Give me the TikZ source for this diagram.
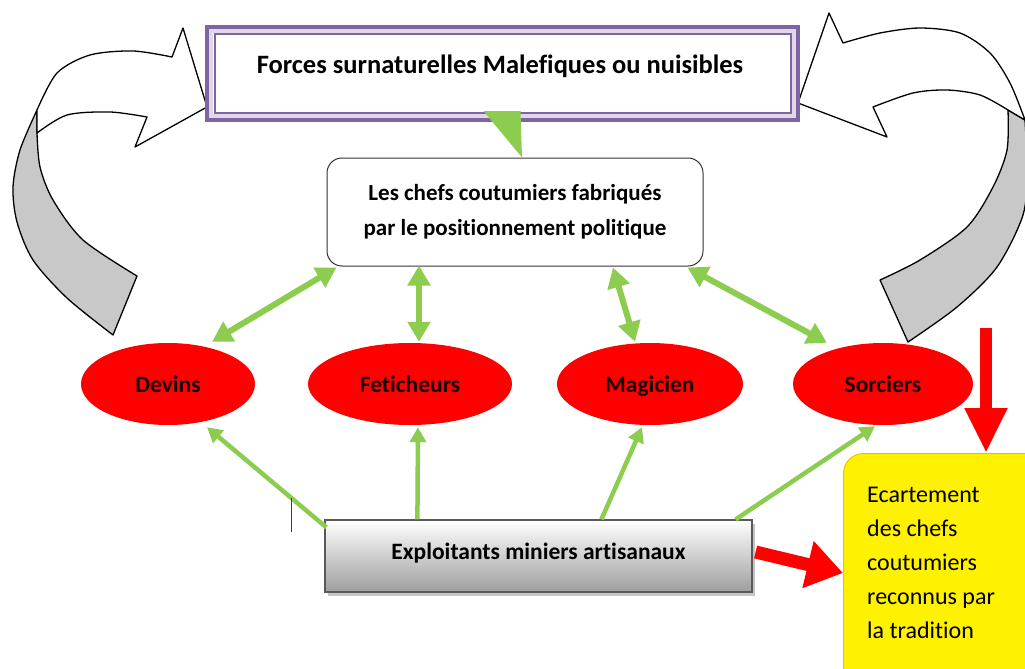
\documentclass[tikz,border=0pt]{standalone}
\usepackage{fontspec}
\setmainfont{Carlito}[Ligatures=NoCommon]
\usetikzlibrary{arrows.meta,shapes.geometric,shadows,calc}
\definecolor{grn}{RGB}{140,205,80}
\definecolor{purp}{RGB}{128,100,162}
\definecolor{redd}{RGB}{255,0,0}
\definecolor{bandgray}{RGB}{200,200,200}
\definecolor{yelborder}{RGB}{225,195,0}
\begin{document}
\begin{tikzpicture}[x=1pt,y=-1pt,
  topbox/.style={draw=purp,line width=6pt,fill=white,minimum width=589pt,minimum height=91pt,inner sep=0pt},
  chefbox/.style={draw=black!80,line width=1pt,fill=white,rounded corners=15pt,minimum width=376pt,minimum height=108pt,align=center,font=\fontsize{23}{35}\selectfont\bfseries},
  oval/.style={ellipse,fill=redd,draw=none,minimum height=82pt,inner sep=0pt,text height=16pt,text depth=0pt,font=\fontsize{23.5}{26}\selectfont\bfseries,text=black!90!red},
  expbox/.style={draw=black!65,line width=1.2pt,top color=white,bottom color=black!38,minimum width=427pt,minimum height=72pt,text height=16pt,text depth=10pt,font=\fontsize{23.5}{26}\selectfont\bfseries,drop shadow={shadow xshift=3pt,shadow yshift=-4pt,opacity=0.45}},
  yelbox/.style={draw=yelborder,line width=1pt,fill=yellow,rounded corners=20pt,minimum width=230pt,minimum height=250pt,anchor=north west},
  dbl/.style={grn,line width=6pt,{Triangle[length=20pt,width=22pt]}-{Triangle[length=20pt,width=22pt]}},
  sgl/.style={grn,line width=4.5pt,-{Triangle[length=15pt,width=16pt]}},
  bandline/.style={draw=black,line width=1.3pt,line join=round}]
\useasboundingbox (0,0) rectangle (1025,669);
\fill[white] (0,0) rectangle (1025,669);
\clip (0,0) rectangle (1025,669);

% curved block arrows
\path[bandline,fill=bandgray] plot[smooth] coordinates {(37,110) (20,150) (13,187) (17,222) (33,260) (67,298) (113,335)} -- (137,276)
  -- plot[smooth] coordinates {(137,276) (83,240) (53,200) (40,167) (37,133)} -- cycle;
\path[bandline,fill=white] plot[smooth] coordinates {(37,110) (57,73) (90,55) (133,51) (172,57)} -- (183,28) -- (207,107) -- (135,147) -- (147,117)
  -- plot[smooth] coordinates {(147,117) (110,112) (67,115) (37,133)} -- cycle;
\path[bandline,fill=bandgray] plot[smooth] coordinates {(1025,120) (1027,170) (1023,215) (997,267) (957,307) (908,342)} -- (880,280)
  -- plot[smooth] coordinates {(880,280) (920,260) (967,227) (993,187) (1007,150) (1008,110)} -- cycle;
\path[bandline,fill=white] plot[smooth] coordinates {(1025,120) (1010,83) (990,53) (960,33) (920,28) (880,33) (843,43)} -- (829,13) -- (798,103) -- (887,137) -- (873,107)
  -- plot[smooth] coordinates {(873,107) (913,93) (947,90) (980,95) (1008,110)} -- cycle;

% top box
\node[topbox] (top) at (502.5,73.5) {};
\draw[purp!25,line width=4pt] ([xshift=6pt,yshift=-6pt]top.north west) rectangle ([xshift=-6pt,yshift=6pt]top.south east);
\draw[purp,line width=2pt] ([xshift=9.5pt,yshift=-9.5pt]top.north west) rectangle ([xshift=-9.5pt,yshift=9.5pt]top.south east);
\node[anchor=base,font=\fontsize{26.5}{30}\selectfont\bfseries] (toptext) at (500,74) {Forces surnaturelles Malefiques ou nuisibles};

% chefs box
\node[chefbox] (chefs) at (515,212) {Les chefs coutumiers fabriqués\\par le positionnement politique};
\fill[grn] ([xshift=-19pt,yshift=11pt]top.south) -- ([xshift=18pt,yshift=11pt]top.south) -- ([xshift=7pt]chefs.north) -- cycle;

% ellipses
\node[oval,minimum width=174pt] (dev) at (168,384) {Devins};
\node[oval,minimum width=204pt] (fet) at (410,384) {Feticheurs};
\node[oval,minimum width=186pt] (mag) at (650,384) {Magicien};
\node[oval,minimum width=180pt] (sor) at (883,384) {Sorciers};

% double arrows
\draw[dbl] ([xshift=44pt,yshift=1pt]dev.north) -- ([xshift=10pt,yshift=-1pt]chefs.south west);
\draw[dbl] ([xshift=9pt,yshift=1pt]fet.north) -- ([xshift=9pt,yshift=1pt]fet.north |- chefs.south);
\draw[dbl] ([xshift=-15pt,yshift=1pt]mag.north) -- ([xshift=98pt,yshift=-1pt]chefs.south);
\draw[dbl] ([xshift=-56pt,yshift=0pt]sor.north) -- ([xshift=-16pt,yshift=-1pt]chefs.south east);

% bottom box
\node[expbox] (exp) at (538.5,556) {Exploitants miniers artisanaux};

% single arrows
\draw[sgl] ([xshift=2pt,yshift=-8pt]exp.north west) -- ([xshift=39pt,yshift=-2pt]dev.south);
\draw[sgl] ([xshift=93pt]exp.north west) -- ([xshift=8pt,yshift=-2pt]fet.south);
\draw[sgl] ([xshift=277pt]exp.north west) -- ([xshift=-8pt,yshift=-2pt]mag.south);
\draw[sgl] ([xshift=-17pt]exp.north east) -- ([xshift=-8pt,yshift=-1pt]sor.south);

% cursor mark
\draw[black!75,line width=1pt] (291,498) -- (291,532);

% yellow box
\node[yelbox] (yel) at (843,453) {};
\node[anchor=north west,inner sep=0pt,align=left,font=\fontsize{24}{34}\selectfont] (yeltext) at (867,487) {Ecartement\\des chefs\\coutumiers\\reconnus par\\la tradition};

% red arrows
\draw[redd,line width=13pt,-{Triangle[length=36pt,width=46pt]}] ([xshift=3pt,yshift=4pt]exp.east) -- ([yshift=-120pt]yel.north west);
\coordinate (rtop) at (986,328);
\draw[redd,line width=12pt,-{Triangle[length=45pt,width=40pt]}] (rtop) -- ([xshift=143pt]yel.north west);
\end{tikzpicture}
\end{document}
